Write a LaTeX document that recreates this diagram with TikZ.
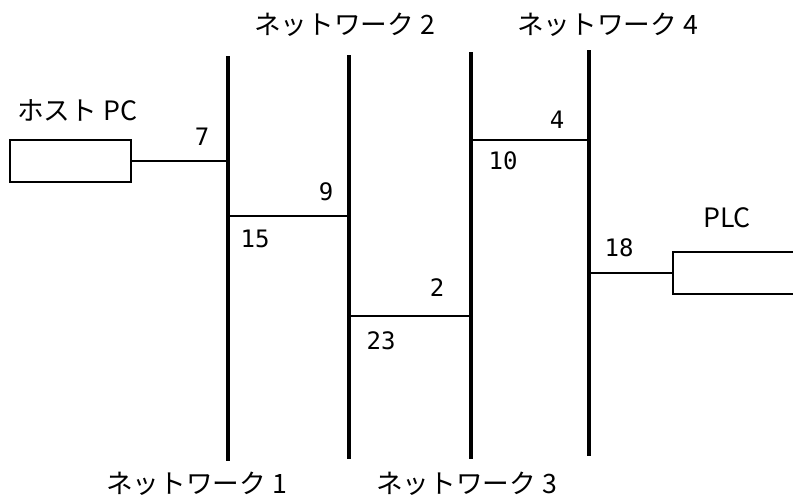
\documentclass[tikz,border=0pt]{standalone}
\usepackage{fontspec}
\setmainfont{Noto Sans CJK JP}
\newfontfamily\numfont{DejaVu Sans Mono}
\begin{document}
\begin{tikzpicture}[x=0.75pt,y=-0.75pt,
  bus/.style={line width=3pt},
  link/.style={line width=1.2pt},
  dev/.style={draw,line width=1.2pt,minimum width=90.75pt,minimum height=31.5pt,inner sep=0pt},
  netlabel/.style={font=\fontsize{20pt}{22pt}\selectfont,inner sep=0pt},
  num/.style={font=\numfont\fontsize{18pt}{20pt}\selectfont,inner sep=0pt}]
\useasboundingbox (0,0) rectangle (793,497);
\clip (0,0) rectangle (793,497);
% buses
\coordinate (n1t) at (228,56); \coordinate (n1b) at (228,461);
\coordinate (n2t) at (349,55); \coordinate (n2b) at (349,459);
\coordinate (n3t) at (471,52); \coordinate (n3b) at (471,459);
\coordinate (n4t) at (589,50); \coordinate (n4b) at (589,456);
\draw[bus] (n1t) -- (n1b);
\draw[bus] (n2t) -- (n2b);
\draw[bus] (n3t) -- (n3b);
\draw[bus] (n4t) -- (n4b);
% devices
\node[dev] (host) at (70.5,161) {};
\node[dev,anchor=west] (plc) at (672,273) {};
\node[netlabel,anchor=west] (hostlbl) at (17,110) {ホスト PC};
\node[netlabel] (plclbl) at (727,218) {PLC};
% link points
\coordinate (h1) at (228,161);
\coordinate (a1) at (228,216); \coordinate (a2) at (349,216);
\coordinate (b2) at (349,316); \coordinate (b3) at (471,316);
\coordinate (c3) at (471,140); \coordinate (c4) at (589,140);
\coordinate (p4) at (589,273);
\draw[link] (host.east) -- (h1);
\draw[link] (a1) -- (a2);
\draw[link] (b2) -- (b3);
\draw[link] (c3) -- (c4);
\draw[link] (p4) -- (plc.west);
% numbers
\node[num] (l7) at (202,137) {7};
\node[num] (l9) at (326,192) {9};
\node[num] (l15) at (255,239) {15};
\node[num] (l2) at (437,288) {2};
\node[num] (l23) at (381,341) {23};
\node[num] (l4) at (557,120) {4};
\node[num] (l10) at (503,161) {10};
\node[num] (l18) at (619,248) {18};
% network labels
\node[netlabel,anchor=west] (net2) at (254,25) {ネットワーク 2};
\node[netlabel,anchor=west] (net4) at (517,25) {ネットワーク 4};
\node[netlabel,anchor=west] (net1) at (106,484) {ネットワーク 1};
\node[netlabel,anchor=west] (net3) at (376,484) {ネットワーク 3};
\end{tikzpicture}
\end{document}
